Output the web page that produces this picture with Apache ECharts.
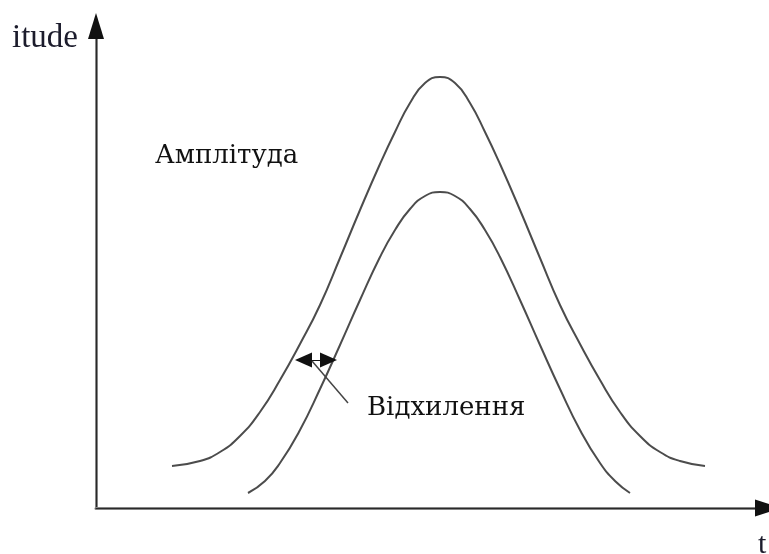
<!DOCTYPE html>
<html>
<head>
<meta charset="utf-8">
<script src="https://cdn.jsdelivr.net/npm/echarts@6/dist/echarts.min.js"></script>
<style>
  html, body { margin: 0; padding: 0; background: #fff; }
  #chart { width: 769px; height: 554px; }
</style>
</head>
<body>
<div id="chart"></div>
<script>
// Time positions and amplitudes of the reference pulse (outer curve)
const outerT = [76, 104, 124, 144, 164, 184, 204, 224, 244, 264, 284, 299, 314, 329, 344, 359, 374, 389, 404, 424, 444, 464, 484, 504, 524, 544, 564, 584, 609];
const outerA = [42, 47, 56, 72, 96, 128, 164, 203, 250, 298, 344, 376, 405, 425, 431, 425, 405, 376, 344, 298, 250, 203, 164, 128, 96, 72, 56, 47, 42];

// Time positions and amplitudes of the deviated pulse (inner curve)
const innerT = [152, 169, 184, 204, 224, 244, 264, 284, 299, 314, 329, 344, 359, 374, 389, 404, 424, 444, 464, 484, 504, 519, 534];
const innerA = [15, 27, 45, 78, 119, 163, 208, 251, 278, 299, 312, 316, 312, 299, 278, 251, 208, 163, 119, 78, 45, 27, 15];

// Deviation marker: double arrow between the curves and its leader line
const arrowFrom = [207.5, 148];
const arrowTo = [232.5, 148];
const leaderFrom = [216, 147];
const leaderTo = [252, 105];

// Axis ranges
const tRange = [0, 672];
const aRange = [0, 482];

const toPairs = (xs, ys) => xs.map((x, i) => [x, ys[i]]);

const chart = echarts.init(document.getElementById('chart'), null, { renderer: 'canvas' });

const hiddenAxisParts = {
  axisTick: { show: false },
  axisLabel: { show: false },
  splitLine: { show: false }
};

const serif = '"Liberation Serif", "Times New Roman", serif';
const cyr = '"DejaVu Serif", serif';

chart.setOption({
  animation: false,
  backgroundColor: '#ffffff',
  grid: { left: 96, right: 1, top: 26, bottom: 46, containLabel: false },
  xAxis: [
    {
      type: 'value', min: tRange[0], max: tRange[1],
      axisLine: { show: true, onZero: false, lineStyle: { color: '#858585', width: 3 } },
      ...hiddenAxisParts
    },
    {
      type: 'value', min: tRange[0], max: tRange[1], position: 'bottom',
      axisLine: {
        show: true, onZero: false,
        symbol: ['none', 'triangle'], symbolSize: [17, 26],
        lineStyle: { color: '#111', width: 0.8 }
      },
      ...hiddenAxisParts
    }
  ],
  yAxis: [
    {
      type: 'value', min: aRange[0], max: aRange[1],
      axisLine: { show: true, onZero: false, lineStyle: { color: '#858585', width: 3 } },
      ...hiddenAxisParts
    },
    {
      type: 'value', min: aRange[0], max: aRange[1], position: 'left',
      axisLine: {
        show: true, onZero: false,
        symbol: ['none', 'triangle'], symbolSize: [16, 26],
        lineStyle: { color: '#111', width: 0.8 }
      },
      ...hiddenAxisParts
    }
  ],
  graphic: [
    {
      type: 'text', x: 78, y: 38,
      style: { text: 'itude', font: '33px ' + serif, fill: '#1c1c2c', align: 'right', verticalAlign: 'middle' }
    },
    {
      type: 'text', x: 758, y: 545,
      style: { text: 't', font: '30px ' + serif, fill: '#1c1c2c', align: 'left', verticalAlign: 'middle' }
    },
    {
      type: 'text', x: 155, y: 156,
      style: { text: 'Амплітуда', font: '26px ' + cyr, fill: '#111', align: 'left', verticalAlign: 'middle' }
    },
    {
      type: 'text', x: 367, y: 408,
      style: { text: 'Відхилення', font: '26px ' + cyr, fill: '#111', align: 'left', verticalAlign: 'middle' }
    }
  ],
  series: [
    {
      type: 'line', xAxisIndex: 0, yAxisIndex: 0,
      data: toPairs(outerT, outerA),
      smooth: 0.5, showSymbol: false, silent: true,
      lineStyle: { color: '#4c4c4c', width: 2 }
    },
    {
      type: 'line', xAxisIndex: 0, yAxisIndex: 0,
      data: toPairs(innerT, innerA),
      smooth: 0.5, showSymbol: false, silent: true,
      lineStyle: { color: '#4c4c4c', width: 2 },
      markLine: {
        silent: true,
        animation: false,
        label: { show: false },
        emphasis: { disabled: true },
        data: [
          [
            { coord: arrowFrom, symbol: 'triangle', symbolSize: [15, 17], lineStyle: { color: '#111', width: 1, type: 'solid', curveness: 0 } },
            { coord: arrowTo, symbol: 'triangle', symbolSize: [15, 17] }
          ],
          [
            { coord: leaderFrom, symbol: 'none', lineStyle: { color: '#444', width: 1.5, type: 'solid', curveness: -0.3 } },
            { coord: leaderTo, symbol: 'none' }
          ]
        ]
      }
    }
  ]
});
</script>
</body>
</html>
